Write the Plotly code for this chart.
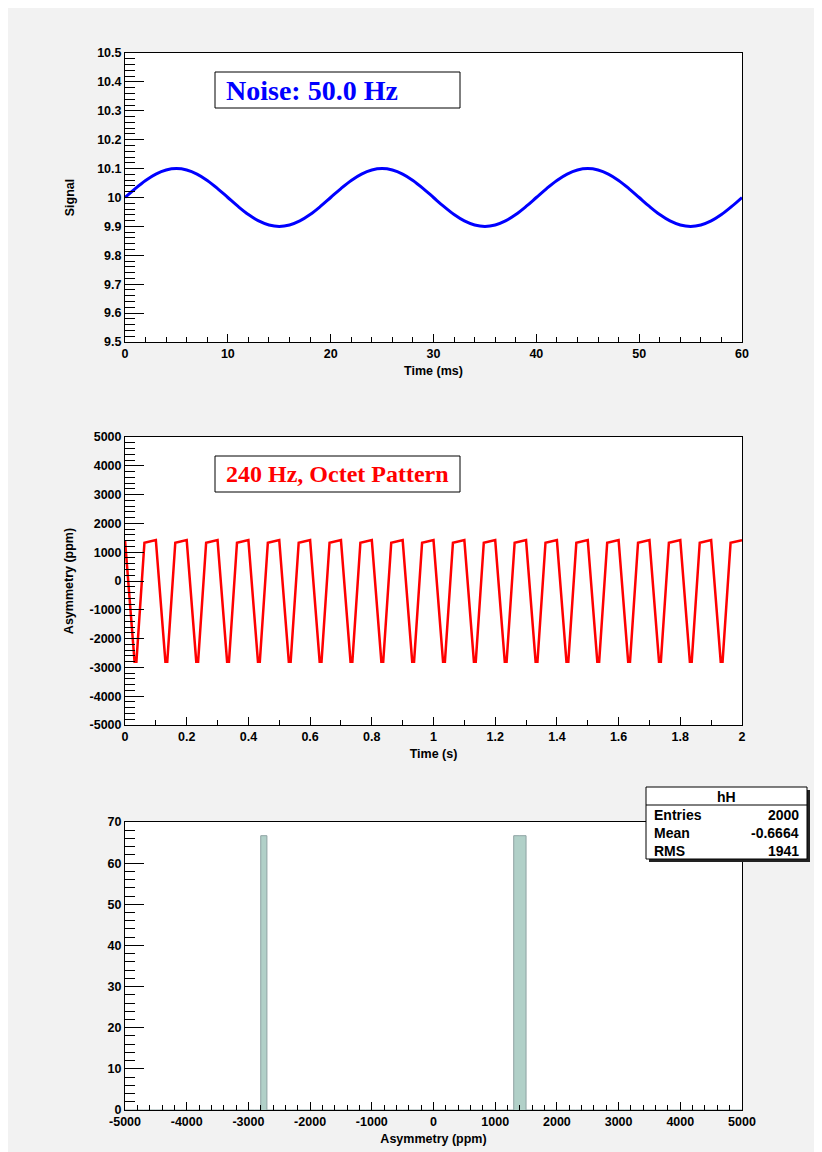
import plotly.graph_objects as go
import numpy as np

# --- pad 1: signal with 50 Hz noise, read every 1 ms
time_ms = list(range(0, 61))
signal = [
    10.000, 10.031, 10.059, 10.081, 10.095, 10.100, 10.095, 10.081, 10.059, 10.031,
    10.000, 9.969, 9.941, 9.919, 9.905, 9.900, 9.905, 9.919, 9.941, 9.969,
    10.000, 10.031, 10.059, 10.081, 10.095, 10.100, 10.095, 10.081, 10.059, 10.031,
    10.000, 9.969, 9.941, 9.919, 9.905, 9.900, 9.905, 9.919, 9.941, 9.969,
    10.000, 10.031, 10.059, 10.081, 10.095, 10.100, 10.095, 10.081, 10.059, 10.031,
    10.000, 9.969, 9.941, 9.919, 9.905, 9.900, 9.905, 9.919, 9.941, 9.969,
    10.000,
]

# --- pad 2: asymmetry vs time, corners of the octet pattern
time_s = [
    0.000,
    0.031, 0.037, 0.063, 0.100,
    0.131, 0.137, 0.163, 0.200,
    0.231, 0.237, 0.263, 0.300,
    0.331, 0.337, 0.363, 0.400,
    0.431, 0.437, 0.463, 0.500,
    0.531, 0.537, 0.563, 0.600,
    0.631, 0.637, 0.663, 0.700,
    0.731, 0.737, 0.763, 0.800,
    0.831, 0.837, 0.863, 0.900,
    0.931, 0.937, 0.963, 1.000,
    1.031, 1.037, 1.063, 1.100,
    1.131, 1.137, 1.163, 1.200,
    1.231, 1.237, 1.263, 1.300,
    1.331, 1.337, 1.363, 1.400,
    1.431, 1.437, 1.463, 1.500,
    1.531, 1.537, 1.563, 1.600,
    1.631, 1.637, 1.663, 1.700,
    1.731, 1.737, 1.763, 1.800,
    1.831, 1.837, 1.863, 1.900,
    1.931, 1.937, 1.963, 2.000,
]
asym_ppm = [
    1420,
    -2800, -2800, 1330, 1420,
    -2800, -2800, 1330, 1420,
    -2800, -2800, 1330, 1420,
    -2800, -2800, 1330, 1420,
    -2800, -2800, 1330, 1420,
    -2800, -2800, 1330, 1420,
    -2800, -2800, 1330, 1420,
    -2800, -2800, 1330, 1420,
    -2800, -2800, 1330, 1420,
    -2800, -2800, 1330, 1420,
    -2800, -2800, 1330, 1420,
    -2800, -2800, 1330, 1420,
    -2800, -2800, 1330, 1420,
    -2800, -2800, 1330, 1420,
    -2800, -2800, 1330, 1420,
    -2800, -2800, 1330, 1420,
    -2800, -2800, 1330, 1420,
    -2800, -2800, 1330, 1420,
    -2800, -2800, 1330, 1420,
    -2800, -2800, 1330, 1420,
]

# --- pad 3: histogram hH (100 bins from -5000 to 5000), only non-empty bins
hist_lo, hist_hi, hist_nbins = -5000, 5000, 100
filled_bin_low = [-2800, 1300, 1400]
filled_bin_count = [66.67, 66.67, 66.67]
stats_name = "hH"
stats_rows = [("Entries", "2000"), ("Mean", "-0.6664"), ("RMS", "1941")]

# tick labels
y1_ticks = [9.5, 9.6, 9.7, 9.8, 9.9, 10, 10.1, 10.2, 10.3, 10.4, 10.5]
x1_ticks = [0, 10, 20, 30, 40, 50, 60]
y2_ticks = [-5000, -4000, -3000, -2000, -1000, 0, 1000, 2000, 3000, 4000, 5000]
x2_ticks = [0, 0.2, 0.4, 0.6, 0.8, 1, 1.2, 1.4, 1.6, 1.8, 2]
y3_ticks = [0, 10, 20, 30, 40, 50, 60, 70]
x3_ticks = [-5000, -4000, -3000, -2000, -1000, 0, 1000, 2000, 3000, 4000, 5000]

W, H = 822, 1152
OFF = 8  # body margin of the page, reference pixel = figure pixel + OFF
FONT = "Liberation Sans, Arial, Helvetica, sans-serif"
SERIF = "Liberation Serif, Times New Roman, serif"


def px(x):
    return (x - OFF) / W


def py(y):
    return 1 - (y - OFF) / H


def lab(v):
    return "%g" % v


edges = np.linspace(hist_lo, hist_hi, hist_nbins + 1)
counts = np.zeros(hist_nbins)
width = (hist_hi - hist_lo) / hist_nbins
for lo, c in zip(filled_bin_low, filled_bin_count):
    counts[int(round((lo - hist_lo) / width))] = c
step_y = np.append(counts, counts[-1])

fig = go.Figure()
fig.add_trace(go.Scatter(x=time_ms, y=signal, mode="lines", line=dict(color="#0000ff", width=3, shape="spline"),
                         xaxis="x", yaxis="y", showlegend=False))
fig.add_trace(go.Scatter(x=time_s, y=asym_ppm, mode="lines", line=dict(color="#ff0000", width=2.5),
                         xaxis="x2", yaxis="y2", showlegend=False))
fig.add_trace(go.Scatter(x=edges, y=step_y, mode="lines", line=dict(color="#8ea3a3", width=1, shape="hv"),
                         fill="tozeroy", fillcolor="#b1d0c8", xaxis="x3", yaxis="y3", showlegend=False))

# frame positions in reference pixels
frame_l, frame_r = 125, 742
pads = [(53, 342), (437, 725), (822, 1110)]

tickfont = dict(family=FONT, size=12.5, color="black", weight="bold")
titlefont = dict(family=FONT, size=12.5, color="black", weight="bold")


def xaxis(anchor, rng, ticks, minor_dt, title, standoff):
    return dict(
        domain=[px(frame_l), px(frame_r)], anchor=anchor, range=rng, automargin=False,
        showline=True, linecolor="black", linewidth=1, mirror=True,
        showgrid=False, zeroline=False,
        ticks="inside", ticklen=8, tickcolor="black", tickwidth=1,
        tickmode="array", tickvals=ticks, ticktext=[lab(t) for t in ticks],
        minor=dict(ticks="inside", ticklen=5, tickcolor="black", dtick=minor_dt, tick0=rng[0], showgrid=False),
        tickfont=tickfont,
        title=dict(text=title, font=titlefont, standoff=standoff),
    )


def yaxis(anchor, dom, rng, ticks, minor_dt, title, standoff):
    return dict(
        domain=[py(dom[1]), py(dom[0])], anchor=anchor, range=rng, automargin=False,
        showline=True, linecolor="black", linewidth=1, mirror=True,
        showgrid=False, zeroline=False,
        ticks="inside", ticklen=19, tickcolor="black", tickwidth=1,
        tickmode="array", tickvals=ticks, ticktext=[lab(t) for t in ticks],
        minor=dict(ticks="inside", ticklen=10, tickcolor="black", dtick=minor_dt, tick0=rng[0], showgrid=False),
        tickfont=tickfont,
        title=dict(text=title, font=titlefont, standoff=standoff),
    )


fig.update_layout(
    width=W, height=H,
    margin=dict(l=0, r=0, t=0, b=0),
    paper_bgcolor="#f2f2f2", plot_bgcolor="white",
    xaxis=xaxis("y", [0, 60], x1_ticks, 2, "Time (ms)", 6),
    yaxis=yaxis("x", pads[0], [9.5, 10.5], y1_ticks, 0.02, "Signal", 19),
    xaxis2=xaxis("y2", [0, 2], x2_ticks, 0.1, "Time (s)", 6),
    yaxis2=yaxis("x2", pads[1], [-5000, 5000], y2_ticks, 200, "Asymmetry (ppm)", 13),
    xaxis3=xaxis("y3", [-5000, 5000], x3_ticks, 200, "Asymmetry (ppm)", 6),
    yaxis3=yaxis("x3", pads[2], [0, 70], y3_ticks, 2, "", 10),
)

shapes = []
annos = []

# title boxes
for (top, bot), txt, col, size in [((72, 108), "Noise: 50.0 Hz", "#0000ff", 28),
                                   ((456, 492), "240 Hz, Octet Pattern", "#ff0000", 24)]:
    shapes.append(dict(type="rect", xref="paper", yref="paper", x0=px(215), x1=px(460), y0=py(bot), y1=py(top),
                       line=dict(color="black", width=1), fillcolor="white", layer="above"))
    annos.append(dict(xref="paper", yref="paper", x=px(224), y=py((top + bot) / 2), xanchor="left", yanchor="middle",
                      text=txt, showarrow=False, font=dict(family=SERIF, size=size, color=col, weight="bold")))

# stats box with shadow
sl, sr, st, sb = 646, 807, 787, 859
shapes.append(dict(type="rect", xref="paper", yref="paper", x0=px(sl + 3), x1=px(sr + 3), y0=py(sb + 3), y1=py(st + 3),
                   line=dict(width=0), fillcolor="#222222", layer="above"))
shapes.append(dict(type="rect", xref="paper", yref="paper", x0=px(sl), x1=px(sr), y0=py(sb), y1=py(st),
                   line=dict(color="black", width=1), fillcolor="white", layer="above"))
shapes.append(dict(type="line", xref="paper", yref="paper", x0=px(sl), x1=px(sr), y0=py(805), y1=py(805),
                   line=dict(color="black", width=1), layer="above"))
statfont = dict(family=FONT, size=14, color="black", weight="bold")
annos.append(dict(xref="paper", yref="paper", x=px((sl + sr) / 2), y=py(796.5), xanchor="center", yanchor="middle",
                  text=stats_name, showarrow=False, font=statfont))
for i, (name, val) in enumerate(stats_rows):
    yy = py(815 + 17.8 * i)
    annos.append(dict(xref="paper", yref="paper", x=px(652), y=yy, xanchor="left", yanchor="middle",
                      text=name, showarrow=False, font=statfont))
    annos.append(dict(xref="paper", yref="paper", x=px(801), y=yy, xanchor="right", yanchor="middle",
                      text=val, showarrow=False, font=statfont))

fig.update_layout(shapes=shapes, annotations=annos)
fig.write_html("out.html")
